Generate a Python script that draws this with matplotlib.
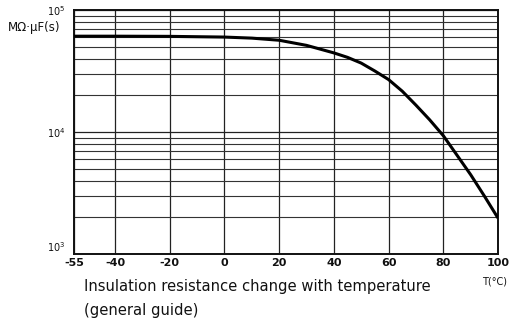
import matplotlib
matplotlib.use("Agg")
import matplotlib.pyplot as plt
from matplotlib.ticker import FixedLocator, NullFormatter, LogLocator

temps = [-55, -40, -20, 0, 10, 20, 30, 40, 45, 50, 55, 60, 65, 70, 75, 80, 85, 90, 95, 100]
resistance = [61000, 61000, 60800, 60000, 58800, 56500, 51300, 44500, 40900, 36700,
              31600, 26900, 21600, 16600, 12600, 9330, 6460, 4470, 2990, 1970]
x_ticks = [-55, -40, -20, 0, 20, 40, 60, 80, 100]
y_ticks = [1e3, 1e4, 1e5]
y_tick_labels = ["10$^3$", "10$^4$", "10$^5$"]

fig = plt.figure(figsize=(5.10, 3.24), dpi=100)
ax = fig.add_axes([74/510, 1-254/324, (498-74)/510, (254-10)/324])

ax.set_yscale("log")
ax.set_xlim(-55, 100)
ax.set_ylim(1e3, 1e5)

ax.set_xticks(x_ticks)
ax.set_xticklabels([str(t) for t in x_ticks], fontsize=8, fontweight="bold", color="#111111")
ax.yaxis.set_major_locator(FixedLocator(y_ticks))
ax.set_yticklabels(y_tick_labels, fontsize=7, color="#111111")
ax.yaxis.set_minor_locator(LogLocator(base=10, subs=range(2, 10)))
ax.yaxis.set_minor_formatter(NullFormatter())

ax.tick_params(axis="x", which="both", length=0, pad=3)
ax.tick_params(axis="y", which="both", length=0, pad=6)
ylabels = ax.get_yticklabels()
ylabels[0].set_verticalalignment("bottom")
ylabels[1].set_verticalalignment("center_baseline")
ylabels[2].set_verticalalignment("center_baseline")
ax.grid(True, which="major", axis="both", color="#222222", linewidth=0.9)
ax.grid(True, which="minor", axis="y", color="#333333", linewidth=0.8)

for s in ax.spines.values():
    s.set_linewidth(1.4)
    s.set_color("#111111")

ax.plot(temps, resistance, color="#000000", linewidth=2.2, solid_capstyle="butt", zorder=5)

fig.text(8/510, 1-28/324, "MΩ·μF(s)", fontsize=8.5, color="#111111", va="center", ha="left")
fig.text(507/510, 1-281/324, "T(°C)", fontsize=7, color="#111111", va="center", ha="right")
fig.text(84/510, 1-287/324, "Insulation resistance change with temperature",
         fontsize=10.6, color="#111111", va="center", ha="left")
fig.text(84/510, 1-310/324, "(general guide)",
         fontsize=10.6, color="#111111", va="center", ha="left")

fig.savefig("out.png", dpi=100, facecolor="white")
